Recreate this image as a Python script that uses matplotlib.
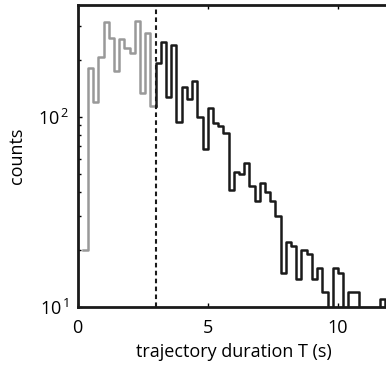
import numpy as np
import matplotlib
matplotlib.use("Agg")
import matplotlib.pyplot as plt
from matplotlib.ticker import FixedLocator, NullFormatter, FuncFormatter

# histogram of trajectory durations, 0.2 s bins
bin_width = 0.2
short_start = 0.2      # first bin of short trajectories (grey)
cutoff = 3.0           # dashed threshold, start of black histogram

short_counts = [20, 180, 120, 207, 316, 258, 173, 255, 229, 216, 320, 133, 275, 114]

long_counts = [192, 248, 127, 238, 94, 143, 124, 154, 100, 68,
               111, 93, 89, 82, 41, 51, 50, 57, 43, 36,
               45, 40, 36, 30, 15, 22, 21, 14, 20, 19,
               14, 16, 12, 8, 16, 15, 7, 12, 12, 6,
               5, 7, 8, 11, 6]

x_ticks = [0, 5, 10]
y_major = [10, 100]
y_minor = [20, 30, 40, 50, 60, 70, 80, 90, 200, 300]

plt.rcParams['font.family'] = ['Open Sans', 'DejaVu Sans']

fig = plt.figure(figsize=(3.86, 3.70), dpi=100)
ax = fig.add_axes([0.2008, 0.171, 0.8096, 0.8154])

# grey part (below cutoff)
short_edges = short_start + bin_width * np.arange(len(short_counts) + 1)
ax.step(short_edges, short_counts + [short_counts[-1]], where='post',
        color='#999999', lw=1.8)

# black part, starting from last grey level
long_edges = cutoff + bin_width * np.arange(len(long_counts) + 1)
ax.step(np.r_[cutoff, long_edges], [short_counts[-1]] + long_counts + [long_counts[-1]],
        where='post', color='#1a1a1a', lw=1.8)

ax.axvline(cutoff, color='#1a1a1a', lw=1.5, ls=(0, (2.2, 1.6)), zorder=3)

ax.set_yscale('log')
ax.set_xlim(0, 12)
ax.set_ylim(10, 387)

ax.xaxis.set_major_locator(FixedLocator(x_ticks))
ax.yaxis.set_major_locator(FixedLocator(y_major))
ax.yaxis.set_minor_locator(FixedLocator(y_minor))
ax.yaxis.set_minor_formatter(NullFormatter())
ax.yaxis.set_major_formatter(FuncFormatter(
    lambda v, p: r'$\mathregular{10^{\,%d}}$' % int(round(np.log10(v)))))

ax.tick_params(which='both', direction='in', top=True, right=True, width=1)
ax.tick_params(which='major', length=3, labelsize=13)
ax.tick_params(axis='x', which='major', pad=9)
ax.tick_params(axis='y', which='major', pad=6)
ax.tick_params(which='minor', length=2)
for s in ax.spines.values():
    s.set_linewidth(2)
    s.set_color('#1a1a1a')

ax.set_xlabel('trajectory duration T (s)', fontsize=13, labelpad=4)
ax.set_ylabel('counts', fontsize=13)
ax.yaxis.set_label_coords(-0.165, 0.5)

fig.savefig('out.png', dpi=100)
